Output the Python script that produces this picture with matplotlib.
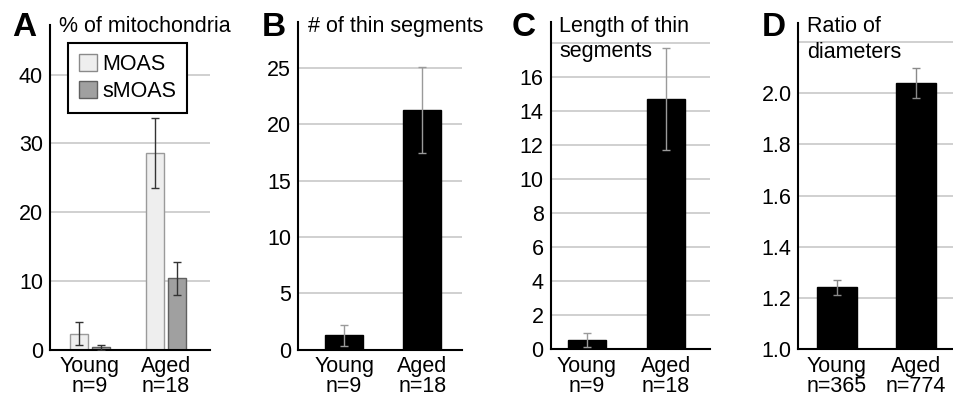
import matplotlib
matplotlib.use("Agg")
import matplotlib.pyplot as plt
from matplotlib.patches import Patch

plt.rcParams['font.family'] = ['Liberation Sans', 'DejaVu Sans']

W, H = 954, 397

# ---- data ----
groups = ["Young", "Aged"]
a_n = ["n=9", "n=18"]
a_moas = [2.3, 28.6]
a_moas_err = [1.7, 5.1]
a_smoas = [0.3, 10.4]
a_smoas_err = [0.3, 2.4]
a_legend = ["MOAS", "sMOAS"]

b_n = ["n=9", "n=18"]
b_vals = [1.25, 21.3]
b_err = [0.95, 3.8]

c_n = ["n=9", "n=18"]
c_vals = [0.55, 14.7]
c_err = [0.4, 3.0]

d_n = ["n=365", "n=774"]
d_vals = [1.242, 2.040]
d_err = [0.030, 0.060]

fig = plt.figure(figsize=(W / 100, H / 100), dpi=100)


def add_axes_px(left, right, top, bottom):
    return fig.add_axes([left / W, 1 - bottom / H, (right - left) / W, (bottom - top) / H])


def style(ax, ylim, yticks, xlim, ticklabels, gridticks):
    ax.set_ylim(*ylim)
    ax.set_xlim(*xlim)
    for s in ['top', 'right']:
        ax.spines[s].set_visible(False)
    for s in ['left', 'bottom']:
        ax.spines[s].set_linewidth(1.5)
        ax.spines[s].set_color('black')
    ax.set_yticks(yticks)
    ax.tick_params(axis='y', length=0, pad=5, labelsize=15.5)
    ax.tick_params(axis='x', length=0, pad=4.5, labelsize=15.5)
    ax.set_xticks([0, 1])
    ax.set_xticklabels(ticklabels, linespacing=0.95)
    for g in gridticks:
        ax.axhline(g, color='#c8c8c8', lw=1.2, zorder=0)


def label_text(n):
    return [f"{g}\n{k}" for g, k in zip(groups, n)]


# ---- panel A ----
axA = add_axes_px(50, 210, 25, 349.5)
style(axA, (0, 47.2), [0, 10, 20, 30, 40], (-0.526, 1.579), label_text(a_n), [10, 20, 30, 40])
off = 0.145
bw = 0.24
xs = [0, 1]
axA.bar([x - off for x in xs], a_moas, bw, color='#eeeeee', edgecolor='#9a9a9a', lw=1, zorder=2)
axA.bar([x + off for x in xs], a_smoas, bw, color='#a0a0a0', edgecolor='#606060', lw=1, zorder=2)
axA.errorbar([x - off for x in xs], a_moas, yerr=a_moas_err, fmt='none', ecolor='#333333',
             elinewidth=1, capsize=3, capthick=1, zorder=3)
axA.errorbar([x + off for x in xs], a_smoas, yerr=a_smoas_err, fmt='none', ecolor='#333333',
             elinewidth=1, capsize=3, capthick=1, zorder=3)
handles = [Patch(facecolor='#eeeeee', edgecolor='#8a8a8a', lw=1),
           Patch(facecolor='#a0a0a0', edgecolor='#606060', lw=1)]
leg = axA.legend(handles, a_legend, loc='upper left', bbox_to_anchor=(68 / W, 1 - 43 / H),
                 bbox_transform=fig.transFigure, borderaxespad=0, fontsize=15.5,
                 handlelength=0.85, handleheight=0.85, handletextpad=0.25,
                 labelspacing=0.3, borderpad=0.5, fancybox=False, framealpha=1)
leg.get_frame().set_edgecolor('black')
leg.get_frame().set_linewidth(1.5)

# ---- panel B ----
axB = add_axes_px(298, 462, 22, 349.5)
style(axB, (0, 29.1), [0, 5, 10, 15, 20, 25], (-0.59, 1.51), label_text(b_n), [5, 10, 15, 20, 25])
axB.bar(xs, b_vals, 0.487, color='black', edgecolor='black', zorder=2)
axB.errorbar(xs, b_vals, yerr=b_err, fmt='none', ecolor='#9a9a9a', elinewidth=1,
             capsize=3, capthick=1, zorder=3)

# ---- panel C ----
axC = add_axes_px(550.5, 710, 21.7, 349.3)
style(axC, (0, 19.27), [0, 2, 4, 6, 8, 10, 12, 14, 16], (-0.46, 1.557), label_text(c_n),
      [2, 4, 6, 8, 10, 12, 14, 16, 18])
axC.bar(xs, c_vals, 0.48, color='black', edgecolor='black', zorder=2)
axC.errorbar(xs, c_vals, yerr=c_err, fmt='none', ecolor='#9a9a9a', elinewidth=1,
             capsize=3, capthick=1, zorder=3)

# ---- panel D ----
axD = add_axes_px(798.5, 954, 23.3, 349.3)
style(axD, (1.0, 2.273), [1.0, 1.2, 1.4, 1.6, 1.8, 2.0], (-0.487, 1.48), label_text(d_n),
      [1.2, 1.4, 1.6, 1.8, 2.0, 2.2])
axD.yaxis.set_major_formatter(matplotlib.ticker.FormatStrFormatter('%.1f'))
axD.bar(xs, d_vals, 0.506, color='black', edgecolor='black', zorder=2)
axD.errorbar(xs, d_vals, yerr=d_err, fmt='none', ecolor='#8a8a8a', elinewidth=1,
             capsize=3, capthick=1, zorder=3)


# ---- titles and panel letters ----
def ftext(x, y, s, **kw):
    fig.text(x / W, 1 - y / H, s, va='baseline', ha='left', **kw)


for letter, x in zip("ABCD", [12, 262, 512, 762]):
    ftext(x, 36, letter, fontsize=24, fontweight='bold')

ftext(59, 32, "% of mitochondria", fontsize=15.5)
ftext(308, 32, "# of thin segments", fontsize=15.5)
ftext(559, 32, "Length of thin", fontsize=15.5)
ftext(559, 57.5, "segments", fontsize=15.5)
ftext(807, 32, "Ratio of", fontsize=15.5)
ftext(807, 58, "diameters", fontsize=15.5)

fig.savefig("out.png", dpi=100)
